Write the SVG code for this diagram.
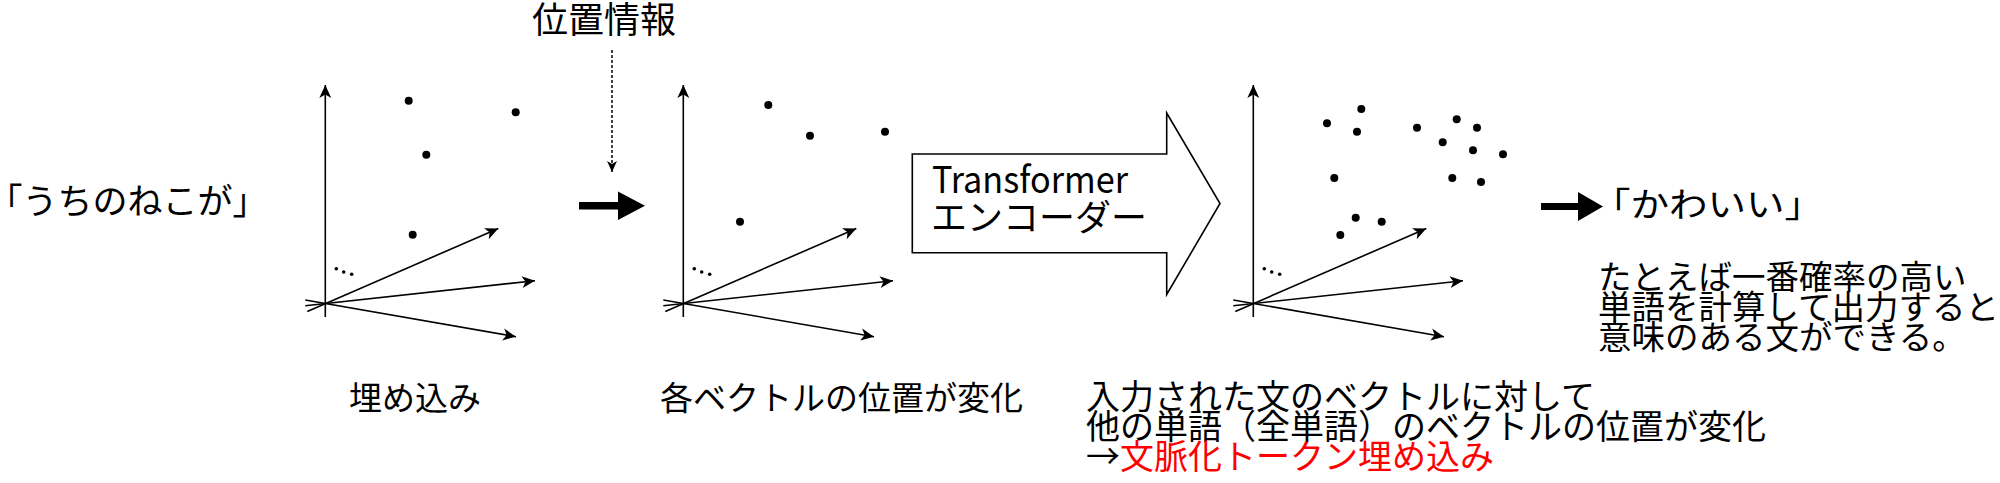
<svg xmlns="http://www.w3.org/2000/svg" width="2000" height="483" viewBox="0 0 2000 483">
<style>
  text { font-family: "Noto Sans CJK JP", "Noto Sans", sans-serif; fill: #000; }
  .ax { stroke: #000; stroke-width: 1.6; fill: none; }
  .dot { fill: #000; }
  .red { fill: #ff0000; }
  .halt { font-feature-settings: "halt" 1; }
</style>
<defs>
  <marker id="ah" markerUnits="userSpaceOnUse" markerWidth="14" markerHeight="12" refX="13" refY="6" orient="auto" overflow="visible">
    <path d="M0,0 L13,6 L0,12 L3.5,6 Z" fill="#000"/>
  </marker>
  <marker id="ahs" markerUnits="userSpaceOnUse" markerWidth="11" markerHeight="11" refX="11" refY="5" orient="auto" overflow="visible">
    <path d="M0,0 L11,5 L0,10 L3,5 Z" fill="#000"/>
  </marker>
  <g id="axes">
    <line class="ax" x1="0" y1="13.5" x2="0" y2="-218.5" marker-end="url(#ah)"/>
    <line class="ax" x1="-18" y1="8" x2="173" y2="-75" marker-end="url(#ah)"/>
    <line class="ax" x1="-20" y1="2.2" x2="209.7" y2="-22.8" marker-end="url(#ah)"/>
    <line class="ax" x1="-20" y1="-3.5" x2="190.7" y2="33.2" marker-end="url(#ah)"/>
    <circle class="dot" cx="11" cy="-34.8" r="1.8"/>
    <circle class="dot" cx="18.4" cy="-31.5" r="1.8"/>
    <circle class="dot" cx="26.4" cy="-29.2" r="1.8"/>
  </g>
</defs>

<g id="input-text">
  <text x="5" y="214" font-size="35"><tspan class="halt">「</tspan>うちのねこが」</text>
</g>

<g id="graph-embedding">
  <use href="#axes" transform="translate(325.3,303.5)"/>
  <circle class="dot" cx="408.7" cy="100.7" r="4"/>
  <circle class="dot" cx="515.7" cy="112.3" r="4"/>
  <circle class="dot" cx="426.3" cy="154.7" r="4"/>
  <circle class="dot" cx="412.7" cy="234.7" r="4"/>
  <text x="349" y="410" font-size="33">埋め込み</text>
</g>

<g id="position-info">
  <text x="604" y="33" font-size="36" text-anchor="middle">位置情報</text>
</g>

<g id="graph-positioned">
  <use href="#axes" transform="translate(683.3,303.5)"/>
  <circle class="dot" cx="768.3" cy="105" r="4"/>
  <circle class="dot" cx="810" cy="135.7" r="4"/>
  <circle class="dot" cx="885" cy="131.7" r="4"/>
  <circle class="dot" cx="740" cy="221.7" r="4"/>
  <text x="660" y="410" font-size="33">各ベクトルの位置が変化</text>
</g>

<g id="transformer-encoder">
  <polygon points="912.3,154 1166.7,154 1166.7,113 1220,203.5 1166.7,294.5 1166.7,252.7 912.3,252.7" fill="#fff" stroke="#000" stroke-width="1.6"/>
  <text x="932" y="193" font-size="37" textLength="196" lengthAdjust="spacingAndGlyphs">Transformer</text>
  <text x="931" y="231" font-size="36">エンコーダー</text>
</g>

<g id="graph-contextual">
  <use href="#axes" transform="translate(1253.3,303.5)"/>
  <circle class="dot" cx="1327" cy="123.3" r="4"/>
  <circle class="dot" cx="1361.3" cy="109" r="4"/>
  <circle class="dot" cx="1357" cy="131.7" r="4"/>
  <circle class="dot" cx="1417" cy="127.7" r="4"/>
  <circle class="dot" cx="1456.7" cy="119.3" r="4"/>
  <circle class="dot" cx="1477" cy="127.7" r="4"/>
  <circle class="dot" cx="1442.7" cy="142.3" r="4"/>
  <circle class="dot" cx="1473" cy="150.3" r="4"/>
  <circle class="dot" cx="1503" cy="154.3" r="4"/>
  <circle class="dot" cx="1334.3" cy="178" r="4"/>
  <circle class="dot" cx="1452.3" cy="178" r="4"/>
  <circle class="dot" cx="1481" cy="182" r="4"/>
  <circle class="dot" cx="1355.7" cy="217.7" r="4"/>
  <circle class="dot" cx="1381.7" cy="221.7" r="4"/>
  <circle class="dot" cx="1340.3" cy="235" r="4"/>
  <text x="1086" y="409" font-size="34">入力された文のベクトルに対して</text>
  <text x="1086" y="439" font-size="34">他の単語（全単語）のベクトルの位置が変化</text>
  <text x="1086" y="469" font-size="34">→<tspan class="red">文脈化トークン埋め込み</tspan></text>
</g>

<g id="output-text">
  <text x="1592" y="217" font-size="34" textLength="231" lengthAdjust="spacingAndGlyphs">「かわいい」</text>
</g>

<g id="note">
  <text x="1598" y="289" font-size="33.5">たとえば一番確率の高い</text>
  <text x="1598" y="319" font-size="33.5">単語を計算して出力すると</text>
  <text x="1598" y="349" font-size="33.5">意味のある文ができる。</text>
</g>

<g id="connectors">
  <line x1="612" y1="50" x2="612" y2="172" stroke="#000" stroke-width="1.5" stroke-dasharray="3 2" marker-end="url(#ahs)"/>
  <polygon points="579,202 618,202 618,191.5 645,205.7 618,220 618,209.5 579,209.5" fill="#000"/>
  <polygon points="1541,203 1578,203 1578,192 1603,206.5 1578,221 1578,210 1541,210" fill="#000"/>
</g>
</svg>
